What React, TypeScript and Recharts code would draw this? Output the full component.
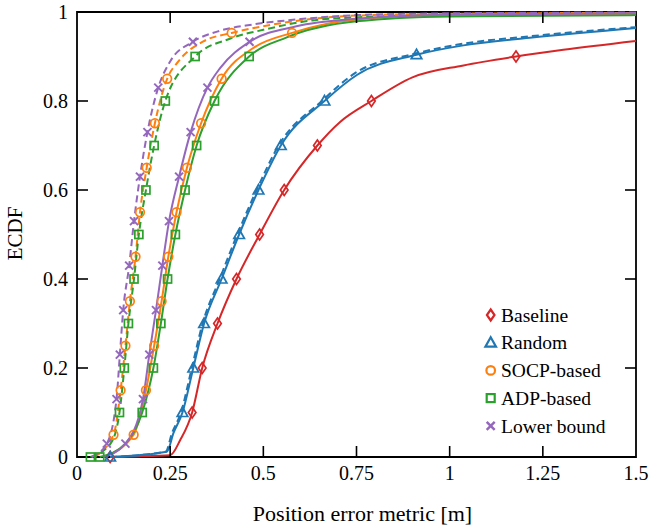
import { LineChart, Line, XAxis, YAxis, ReferenceArea, Legend } from 'recharts';

// ECDF samples (x in m, y in [0,1]); *Marks = indices that carry a marker
const baselineX = [0.089, 0.25, 0.277, 0.309, 0.336, 0.377, 0.428, 0.49, 0.556, 0.645, 0.706, 0.79, 0.9, 1.037, 1.178, 1.305, 1.5];
const baselineY = [0, 0.004, 0.038, 0.1, 0.2, 0.3, 0.4, 0.5, 0.6, 0.7, 0.753, 0.8, 0.853, 0.88, 0.9, 0.915, 0.935];
const baselineMarks = [0, 3, 4, 5, 6, 7, 8, 9, 11, 14];

const randomX = [0.089, 0.241, 0.259, 0.283, 0.312, 0.341, 0.388, 0.435, 0.487, 0.547, 0.664, 0.752, 0.911, 1.037, 1.215, 1.5];
const randomY = [0, 0.012, 0.054, 0.1, 0.2, 0.3, 0.4, 0.5, 0.6, 0.7, 0.8, 0.859, 0.904, 0.925, 0.942, 0.964];
const randomMarks = [0, 3, 4, 5, 6, 7, 8, 9, 10, 12];

const randomDashX = [0.089, 0.238, 0.255, 0.279, 0.308, 0.337, 0.383, 0.43, 0.482, 0.541, 0.657, 0.745, 0.905, 1.03, 1.21, 1.5];
const randomDashY = [0, 0.012, 0.054, 0.1, 0.2, 0.3, 0.4, 0.5, 0.6, 0.7, 0.8, 0.862, 0.906, 0.928, 0.945, 0.966];

const socpX = [0.07, 0.152, 0.185, 0.207, 0.227, 0.245, 0.267, 0.295, 0.333, 0.388, 0.473, 0.577, 0.75, 1.0, 1.5];
const socpY = [0, 0.05, 0.15, 0.25, 0.35, 0.45, 0.55, 0.65, 0.75, 0.85, 0.919, 0.953, 0.983, 0.993, 0.996];
const socpMarks = [1, 2, 3, 4, 5, 6, 7, 8, 9, 11];

const socpDashX = [0.045, 0.098, 0.117, 0.13, 0.142, 0.157, 0.169, 0.187, 0.209, 0.242, 0.272, 0.339, 0.415, 0.5, 0.75, 1.0, 1.5];
const socpDashY = [0, 0.05, 0.15, 0.25, 0.35, 0.45, 0.55, 0.65, 0.75, 0.85, 0.889, 0.934, 0.953, 0.968, 0.992, 0.996, 0.998];
const socpDashMarks = [1, 2, 3, 4, 5, 6, 7, 8, 9, 12];

const adpX = [0.061, 0.13, 0.175, 0.205, 0.225, 0.243, 0.264, 0.29, 0.321, 0.369, 0.462, 0.563, 0.75, 1.0, 1.5];
const adpY = [0, 0.03, 0.1, 0.2, 0.3, 0.4, 0.5, 0.6, 0.7, 0.8, 0.9, 0.943, 0.979, 0.99, 0.993];
const adpMarks = [0, 2, 3, 4, 5, 6, 7, 8, 9, 10];

const adpDashX = [0.036, 0.09, 0.114, 0.127, 0.138, 0.153, 0.166, 0.185, 0.207, 0.237, 0.317, 0.41, 0.5, 0.679, 1.0, 1.5];
const adpDashY = [0, 0.03, 0.1, 0.2, 0.3, 0.4, 0.5, 0.6, 0.7, 0.8, 0.9, 0.94, 0.96, 0.985, 0.993, 0.996];
const adpDashMarks = [0, 2, 3, 4, 5, 6, 7, 8, 9, 10];

const lowerX = [0.07, 0.13, 0.177, 0.194, 0.212, 0.229, 0.247, 0.274, 0.305, 0.35, 0.384, 0.463, 0.589, 0.75, 1.0, 1.5];
const lowerY = [0, 0.03, 0.13, 0.23, 0.33, 0.43, 0.53, 0.63, 0.73, 0.83, 0.874, 0.933, 0.968, 0.985, 0.994, 0.997];
const lowerMarks = [1, 2, 3, 4, 5, 6, 7, 8, 9, 11];

const lowerDashX = [0.04, 0.08, 0.106, 0.115, 0.124, 0.14, 0.153, 0.169, 0.189, 0.218, 0.25, 0.311, 0.384, 0.472, 0.6, 0.75, 1.0, 1.5];
const lowerDashY = [0, 0.03, 0.13, 0.23, 0.33, 0.43, 0.53, 0.63, 0.73, 0.83, 0.889, 0.933, 0.958, 0.972, 0.984, 0.993, 0.997, 0.999];
const lowerDashMarks = [1, 2, 3, 4, 5, 6, 7, 8, 9, 11];

const xTicks = [0, 0.25, 0.5, 0.75, 1, 1.25, 1.5];
const yTicks = [0, 0.2, 0.4, 0.6, 0.8, 1];

const RED = '#d62728';
const BLUE = '#1f77b4';
const ORANGE = '#ff7f0e';
const GREEN = '#2ca02c';
const PURPLE = '#9467bd';

const FONT = "'Liberation Serif', 'Times New Roman', serif";
const PLOT_W = 559;
const PLOT_H = 445;
const TICK = 11;

type Shape = 'diamond' | 'triangle' | 'circle' | 'square' | 'cross';

const toPoints = (xs: number[], ys: number[], marks: number[] = []) =>
  xs.map((x, i) => ({ x, y: ys[i], m: marks.includes(i) }));

const lines = [
  { key: 'base', color: RED, shape: 'diamond' as Shape, dashed: false, data: toPoints(baselineX, baselineY, baselineMarks) },
  { key: 'randD', color: BLUE, shape: 'triangle' as Shape, dashed: true, data: toPoints(randomDashX, randomDashY) },
  { key: 'rand', color: BLUE, shape: 'triangle' as Shape, dashed: false, data: toPoints(randomX, randomY, randomMarks) },
  { key: 'socpD', color: ORANGE, shape: 'circle' as Shape, dashed: true, data: toPoints(socpDashX, socpDashY, socpDashMarks) },
  { key: 'adpD', color: GREEN, shape: 'square' as Shape, dashed: true, data: toPoints(adpDashX, adpDashY, adpDashMarks) },
  { key: 'lowD', color: PURPLE, shape: 'cross' as Shape, dashed: true, data: toPoints(lowerDashX, lowerDashY, lowerDashMarks) },
  { key: 'socp', color: ORANGE, shape: 'circle' as Shape, dashed: false, data: toPoints(socpX, socpY, socpMarks) },
  { key: 'adp', color: GREEN, shape: 'square' as Shape, dashed: false, data: toPoints(adpX, adpY, adpMarks) },
  { key: 'low', color: PURPLE, shape: 'cross' as Shape, dashed: false, data: toPoints(lowerX, lowerY, lowerMarks) },
];

const legendItems: { name: string; color: string; shape: Shape }[] = [
  { name: 'Baseline', color: RED, shape: 'diamond' },
  { name: 'Random', color: BLUE, shape: 'triangle' },
  { name: 'SOCP-based', color: ORANGE, shape: 'circle' },
  { name: 'ADP-based', color: GREEN, shape: 'square' },
  { name: 'Lower bound', color: PURPLE, shape: 'cross' },
];

function Marker({ shape, color, cx, cy, sw = 1.7 }: { shape: Shape; color: string; cx: number; cy: number; sw?: number }) {
  const common = { fill: 'none', stroke: color, strokeWidth: sw };
  switch (shape) {
    case 'diamond':
      return <polygon {...common} points={`${cx},${cy - 5.5} ${cx + 3.8},${cy} ${cx},${cy + 5.5} ${cx - 3.8},${cy}`} />;
    case 'triangle':
      return <polygon {...common} points={`${cx},${cy - 5.5} ${cx + 5.3},${cy + 4} ${cx - 5.3},${cy + 4}`} />;
    case 'circle':
      return <circle {...common} cx={cx} cy={cy} r={4.3} />;
    case 'square':
      return <rect {...common} x={cx - 4} y={cy - 4} width={8} height={8} />;
    default:
      return (
        <g stroke={color} strokeWidth={sw + 0.3}>
          <line x1={cx - 4} y1={cy - 4} x2={cx + 4} y2={cy + 4} />
          <line x1={cx - 4} y1={cy + 4} x2={cx + 4} y2={cy - 4} />
        </g>
      );
  }
}

const makeDot = (shape: Shape, color: string) => (p: any) => {
  const { cx, cy, index, payload } = p;
  if (!payload || !payload.m || cx == null || cy == null) return <g key={`n-${index}`} />;
  return (
    <g key={`m-${index}`}>
      <Marker shape={shape} color={color} cx={cx} cy={cy} />
    </g>
  );
};

function XTick(props: any) {
  const { x, y, payload } = props;
  const v = payload.value as number;
  const inner = v > 0 && v < 1.5;
  return (
    <g>
      {inner && <line x1={x} x2={x} y1={y} y2={y - TICK} stroke="#000" strokeWidth={1.6} />}
      {inner && <line x1={x} x2={x} y1={y - PLOT_H} y2={y - PLOT_H + TICK} stroke="#000" strokeWidth={1.6} />}
      <text x={x} y={y + 23} textAnchor="middle" fontFamily={FONT} fontSize={20} fill="#000">
        {String(v)}
      </text>
    </g>
  );
}

function YTick(props: any) {
  const { x, y, payload } = props;
  const v = payload.value as number;
  const inner = v > 0 && v < 1;
  return (
    <g>
      {inner && <line x1={x} x2={x + TICK} y1={y} y2={y} stroke="#000" strokeWidth={1.6} />}
      {inner && <line x1={x + PLOT_W} x2={x + PLOT_W - TICK} y1={y} y2={y} stroke="#000" strokeWidth={1.6} />}
      <text x={x - 9} y={y + 6.5} textAnchor="end" fontFamily={FONT} fontSize={20} fill="#000">
        {String(v)}
      </text>
    </g>
  );
}

function renderLegend() {
  return (
    <svg width={170} height={140}>
      {legendItems.map((it, i) => (
        <g key={it.name}>
          <Marker shape={it.shape} color={it.color} cx={20.7} cy={15 + 27.7 * i} sw={2.2} />
          <text x={31} y={21.7 + 27.7 * i} fontFamily={FONT} fontSize={19.5} fill="#000">
            {it.name}
          </text>
        </g>
      ))}
    </svg>
  );
}

export default function App() {
  return (
    <div style={{ position: 'absolute', left: 0, top: 0, width: 650, height: 527, background: '#fff' }}>
      <LineChart width={650} height={527} margin={{ top: 12, right: 14, left: 0, bottom: 0 }}>
        <XAxis
          type="number"
          dataKey="x"
          domain={[0, 1.5]}
          ticks={xTicks}
          tick={(p: any) => <XTick {...p} />}
          tickLine={false}
          axisLine={false}
          tickSize={0}
          tickMargin={0}
          height={70}
          interval={0}
          label={(p: any) => {
            const vb = p?.viewBox ?? { x: 77, y: 457, width: PLOT_W, height: 70 };
            return (
              <text x={vb.x + vb.width / 2 + 6} y={521} textAnchor="middle" fontFamily={FONT} fontSize={22} fill="#000">
                Position error metric [m]
              </text>
            );
          }}
        />
        <YAxis
          type="number"
          dataKey="y"
          domain={[0, 1]}
          ticks={yTicks}
          tick={(p: any) => <YTick {...p} />}
          tickLine={false}
          axisLine={false}
          tickSize={0}
          tickMargin={0}
          width={77}
          interval={0}
          label={() => (
            <text x={21.5} y={233.5} transform="rotate(-90 21.5 233.5)" textAnchor="middle" fontFamily={FONT} fontSize={21} fill="#000">
              ECDF
            </text>
          )}
        />
        {lines.map((l) => (
          <Line
            key={l.key}
            data={l.data}
            dataKey="y"
            type="monotone"
            stroke={l.color}
            strokeWidth={2}
            strokeDasharray={l.dashed ? '7 4' : undefined}
            dot={makeDot(l.shape, l.color)}
            activeDot={false}
            isAnimationActive={false}
            legendType="none"
          />
        ))}
        <ReferenceArea x1={0} x2={1.5} y1={0} y2={1} fill="none" fillOpacity={0} stroke="#000" strokeWidth={1.8} />
        <Legend
          layout="vertical"
          align="center"
          verticalAlign="middle"
          content={renderLegend}
          wrapperStyle={{ position: 'absolute', left: 470, top: 300, width: 170, height: 140 }}
        />
      </LineChart>
    </div>
  );
}
